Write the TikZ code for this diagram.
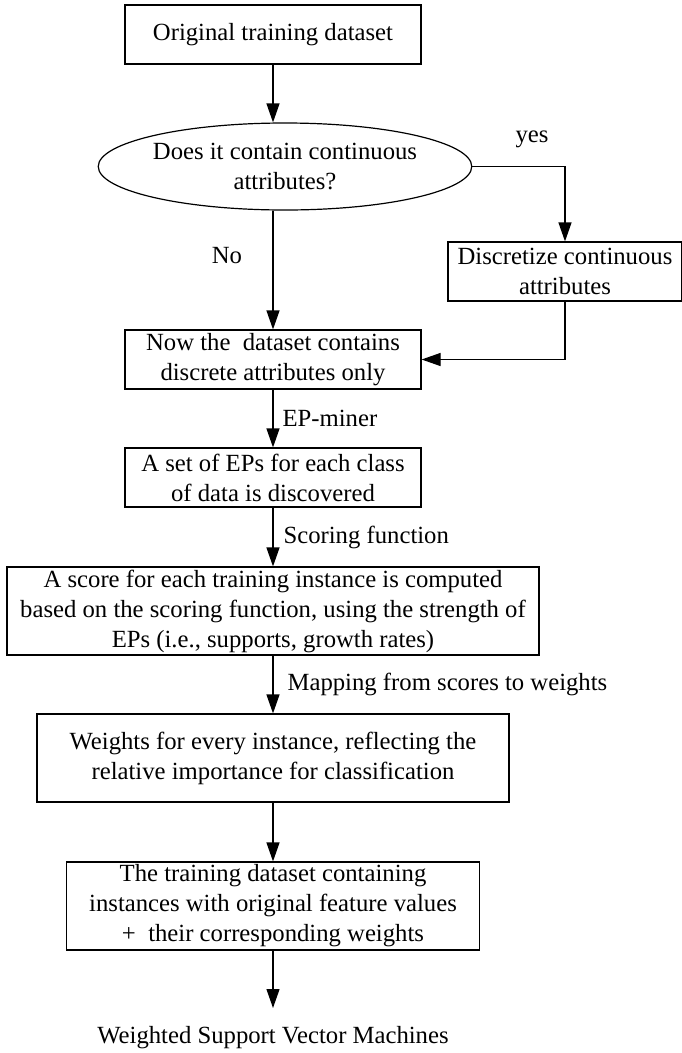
\documentclass[tikz,border=0pt]{standalone}
\usepackage{fontspec}
\setmainfont{Liberation Serif}
\usetikzlibrary{shapes.geometric,arrows.meta}
\newcommand\fsz{\fontsize{24.7}{30}\selectfont}
\begin{document}
\begin{tikzpicture}[x=1pt,y=-1pt,line width=1.2pt,
  box/.style={draw,rectangle,inner sep=0pt,align=center,font=\fsz},
  oval/.style={draw,ellipse,inner sep=0pt,align=center,font=\fsz},
  lbl/.style={inner sep=0pt,font=\fsz},
  arr/.style={-{Triangle[length=19pt,width=13pt]}}]
\useasboundingbox (0,0) rectangle (681,1053);
\node[box,minimum width=296pt,minimum height=59pt] (b1) at (273,34.5) {Original training dataset};
\node[oval,minimum width=354pt,minimum height=87pt] (e) at (285,166.5) {Does it contain continuous\\attributes?};
\node[box,minimum width=234pt,minimum height=59pt] (disc) at (565,271.5) {Discretize continuous\\attributes};
\node[box,minimum width=296pt,minimum height=59pt] (now) at (273,359.5) {Now the~ dataset contains\\discrete attributes only};
\node[box,minimum width=296pt,minimum height=59pt] (eps) at (273,477.5) {A set of EPs for each class\\of data is discovered};
\node[box,minimum width=532pt,minimum height=88pt] (score) at (273,611) {A score for each training instance is computed\\based on the scoring function, using the strength of\\EPs (i.e., supports, growth rates)};
\node[box,minimum width=472pt,minimum height=88pt] (w) at (273,758) {Weights for every instance, reflecting the\\relative importance for classification};
\node[box,minimum width=413pt,minimum height=88pt] (t) at (273,906) {The training dataset containing\\instances with original feature values\\+~ their corresponding weights};
\node[lbl] (svm) at (273,1038) {Weighted Support Vector Machines};
\coordinate (svmtop) at (273,1008);
\node[lbl] (yes) at (532,139) {yes};
\node[lbl] (no) at (227,256) {No};
\draw[arr] (b1.south) -- (b1.south |- e.north);
\draw[arr] (e.east) -| (disc.north);
\draw[arr] (now.north |- e.south) -- (now.north);
\draw[arr] (disc.south) |- (now.east);
\draw[arr] (now.south) -- node[lbl,anchor=west,xshift=9pt]{EP-miner} (eps.north);
\draw[arr] (eps.south) -- node[lbl,anchor=west,xshift=10pt]{Scoring function} (score.north);
\draw[arr] (score.south) -- node[lbl,anchor=west,xshift=14pt]{Mapping from scores to weights} (w.north);
\draw[arr] (w.south) -- (t.north);
\draw[arr] (t.south) -- (svmtop);
\end{tikzpicture}
\end{document}
